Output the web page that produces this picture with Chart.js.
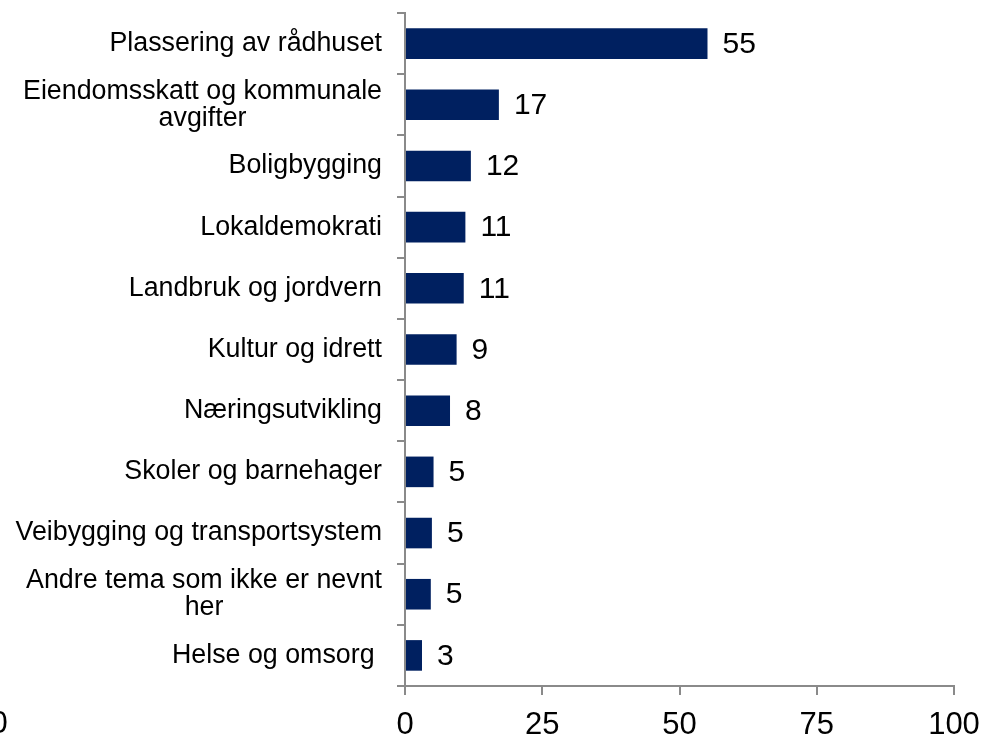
<!DOCTYPE html>
<html>
<head>
<meta charset="utf-8">
<script src="https://cdn.jsdelivr.net/npm/chart.js@4"></script>
<style>
  html, body { margin: 0; padding: 0; background: #fff; }
  #wrap { width: 985px; height: 739px; }
</style>
</head>
<body>
<div id="wrap"><canvas id="barChart" width="985" height="739"></canvas></div>
<script>
// Kategorier (to-linjers etiketter som array)
const categories = [
    "Plassering av rådhuset",
    ["Eiendomsskatt og kommunale", "avgifter"],
    "Boligbygging",
    "Lokaldemokrati",
    "Landbruk og jordvern",
    "Kultur og idrett",
    "Næringsutvikling",
    "Skoler og barnehager",
    "Veibygging og transportsystem",
    ["Andre tema som ikke er nevnt", "her"],
    "Helse og omsorg "
];
const values = [55.1, 17.1, 12.0, 11.0, 10.7, 9.4, 8.2, 5.2, 4.9, 4.7, 3.1];
const xTicks = [0, 25, 50, 75, 100];
const strayLabel = "0";

const FONT = '"Liberation Sans", Arial, sans-serif';
const AXIS_COLOR = "#8a8a8a";
const BAR_COLOR = "#002060";

// Kategorietiketter: linjene sentrert mot hverandre, blokken høyrejustert
const categoryLabels = {
    id: "categoryLabels",
    afterDraw(chart) {
        const ctx = chart.ctx;
        const yScale = chart.scales.y;
        const lineH = 27;
        ctx.save();
        ctx.font = "26.8px " + FONT;
        ctx.fillStyle = "#000";
        ctx.textAlign = "center";
        ctx.textBaseline = "middle";
        categories.forEach((label, i) => {
            const lines = Array.isArray(label) ? label : [label];
            const widest = Math.max(...lines.map(l => ctx.measureText(l).width));
            const cx = 382 - widest / 2;
            const top = yScale.getPixelForValue(i) - (lines.length - 1) * lineH / 2;
            lines.forEach((line, j) => ctx.fillText(line, cx, top + j * lineH));
        });

        // avkuttet etikett helt til venstre
        ctx.font = "31px " + FONT;
        ctx.textBaseline = "top";
        ctx.fillText(strayLabel, -1, chart.chartArea.bottom + 23);
        ctx.restore();
    }
};

// Verdietiketter til høyre for stolpene
const valueLabels = {
    id: "valueLabels",
    afterDatasetsDraw(chart) {
        const ctx = chart.ctx;
        const meta = chart.getDatasetMeta(0);
        ctx.save();
        ctx.font = "30px " + FONT;
        ctx.fillStyle = "#000";
        ctx.textAlign = "left";
        ctx.textBaseline = "middle";
        meta.data.forEach((bar, i) => {
            ctx.fillText(String(Math.round(values[i])), bar.x + 15, bar.y + 1);
        });
        ctx.restore();
    }
};

const ctx = document.getElementById("barChart").getContext("2d");
new Chart(ctx, {
    type: "bar",
    data: {
        labels: categories,
        datasets: [{
            data: values,
            backgroundColor: BAR_COLOR,
            borderWidth: 0,
            barPercentage: 0.5,
            categoryPercentage: 1.0
        }]
    },
    options: {
        indexAxis: "y",
        responsive: false,
        animation: false,
        devicePixelRatio: 1,
        layout: { padding: { top: 13, right: 31, left: 0, bottom: 0 } },
        plugins: {
            legend: { display: false },
            tooltip: { enabled: false }
        },
        scales: {
            x: {
                min: 0,
                max: 100,
                afterBuildTicks(scale) {
                    scale.ticks = xTicks.map(v => ({ value: v }));
                },
                grid: {
                    drawOnChartArea: false,
                    drawTicks: true,
                    tickLength: 9,
                    color: AXIS_COLOR,
                    lineWidth: 2
                },
                border: { display: true, color: AXIS_COLOR, width: 2 },
                ticks: {
                    font: { size: 31, family: FONT },
                    color: "#000",
                    padding: 12,
                    maxRotation: 0
                },
                afterFit(scale) {
                    scale.height = 53;
                    scale.paddingLeft = 0;
                    scale.paddingRight = 0;
                }
            },
            y: {
                grid: {
                    drawOnChartArea: false,
                    drawTicks: true,
                    tickLength: 8,
                    color: AXIS_COLOR,
                    lineWidth: 2,
                    offset: true
                },
                border: { display: true, color: AXIS_COLOR, width: 2 },
                ticks: { display: false },
                afterFit(scale) { scale.width = 405; }
            }
        }
    },
    plugins: [categoryLabels, valueLabels]
});
</script>
</body>
</html>
